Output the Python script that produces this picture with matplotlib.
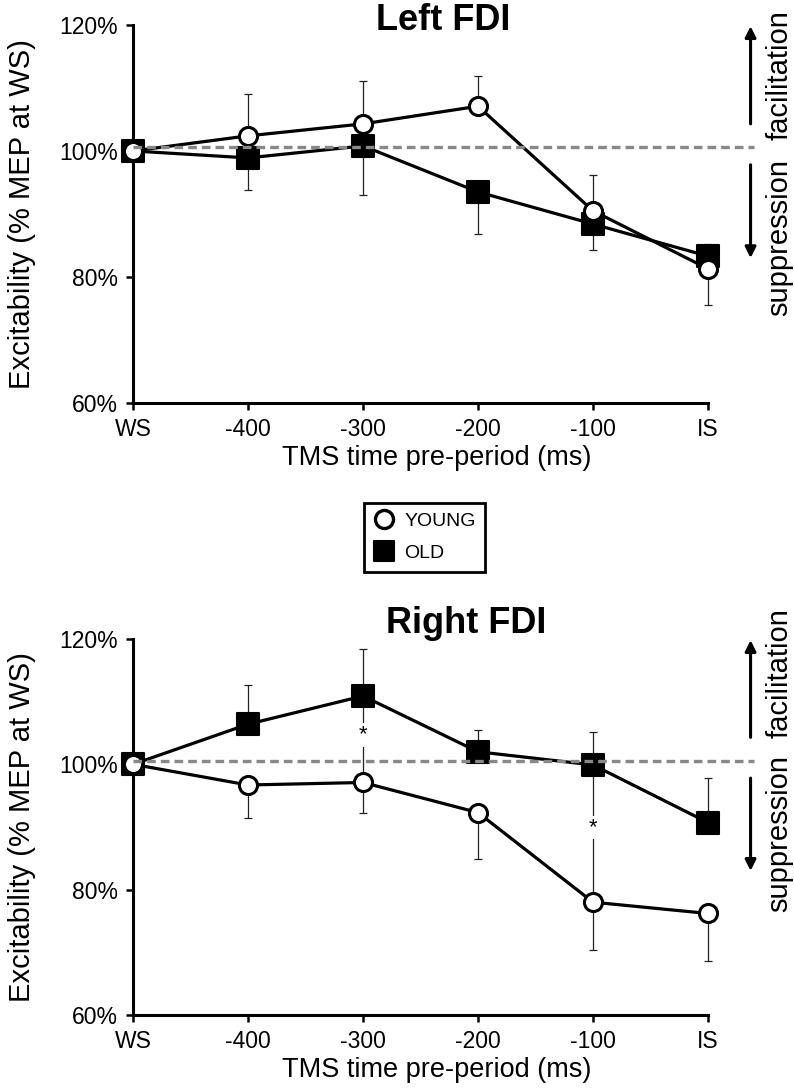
import numpy as np
import matplotlib
matplotlib.use("Agg")
import matplotlib.pyplot as plt
from matplotlib.lines import Line2D
from matplotlib.markers import MarkerStyle

plt.rcParams['font.family'] = ['Liberation Sans', 'DejaVu Sans']

X_LABELS = ["WS", "-400", "-300", "-200", "-100", "IS"]

# Left FDI (mean % of MEP at WS); error bars are one-sided in the figure
LEFT_YOUNG = [100, 102.4, 104.3, 107.1, 90.5, 81.3]
LEFT_YOUNG_LO = [0, 0, 0, 0, 0, 5.7]
LEFT_YOUNG_HI = [0, 6.7, 6.8, 4.8, 5.7, 0]
LEFT_OLD = [100, 98.9, 100.8, 93.5, 88.4, 83.3]
LEFT_OLD_LO = [0, 5.1, 7.8, 6.7, 4.1, 0]
LEFT_OLD_HI = [0, 0, 0, 0, 0, 1.9]

# Right FDI
RIGHT_YOUNG = [100, 96.7, 97.1, 92.3, 78.0, 76.2]
RIGHT_YOUNG_LO = [0, 5.2, 4.8, 7.4, 7.6, 7.6]
RIGHT_YOUNG_HI = [0, 0, 0, 0, 0, 0]
RIGHT_OLD = [100, 106.4, 110.9, 102.0, 99.9, 90.7]
RIGHT_OLD_LO = [0, 0, 0, 0, 0, 0]
RIGHT_OLD_HI = [0, 6.3, 7.5, 3.4, 5.2, 7.1]

# significant young/old differences (Right FDI only)
RIGHT_SIG_X = [2, 4]
RIGHT_SIG_STAR_Y = [104.7, 89.9]

BASELINE = 100.6
SQUARE = MarkerStyle('s', joinstyle='round')


def draw_panel(ax, title, title_xy, young, y_lo, y_hi, old, o_lo, o_hi,
               sig_x=(), sig_star=(), text_split=(101.7, 98.7)):
    x = np.arange(len(X_LABELS))
    for vals, lo, hi in [(old, o_lo, o_hi), (young, y_lo, y_hi)]:
        eb = ax.errorbar(x, vals, yerr=[lo, hi], fmt='none', ecolor='#222222',
                         elinewidth=0.9, capsize=2.8, capthick=0.9, zorder=1)
        for art in eb.lines[1] + eb.lines[2]:
            art.set_clip_on(False)
    for sx, st in zip(sig_x, sig_star):
        ax.vlines(sx, young[sx], old[sx], color='#222222', lw=0.9, zorder=1)
        ax.text(sx, st, "*", ha='center', va='center', fontsize=16,
                bbox=dict(facecolor='white', edgecolor='none', pad=1.0),
                zorder=2)
    ax.plot(x, old, color='black', lw=2.3, marker=SQUARE, ms=15.5,
            mfc='black', mec='black', mew=1.5, clip_on=False, zorder=3)
    ax.plot(x, young, color='black', lw=2.3, marker='o', ms=13,
            mfc='white', mec='black', mew=2.2, clip_on=False, zorder=4)
    ax.hlines(BASELINE, 0, 5.4, colors='#888888', lw=2.4,
              linestyles=(0, (2.6, 1.5)), clip_on=False, zorder=5)

    ax.set_xlim(0, 5)
    ax.set_ylim(60, 120)
    ax.set_xticks(x)
    ax.set_xticklabels(X_LABELS)
    ax.set_yticks([60, 80, 100, 120])
    ax.set_yticklabels(["60%", "80%", "100%", "120%"])
    for s in ["top", "right"]:
        ax.spines[s].set_visible(False)
    for s in ["left", "bottom"]:
        ax.spines[s].set_linewidth(2.2)
    ax.tick_params(length=5, width=1.8, labelsize=16.5, pad=6)
    ax.set_xlabel("TMS time pre-period (ms)", fontsize=19.5)
    ax.xaxis.set_label_coords(0.529, -0.112)
    ax.text(-0.193, 0.5, "Excitability (% MEP at WS)", transform=ax.transAxes,
            rotation=90, ha='center', va='center', fontsize=21)
    ax.text(title_xy[0], title_xy[1], title, ha='center', va='baseline',
            fontsize=26, fontweight='bold', clip_on=False)

    # facilitation / suppression arrows on the right
    ax.annotate("", xy=(5.37, 119.8), xytext=(5.37, 104.3),
                arrowprops=dict(arrowstyle='-|>', lw=2.2, color='black',
                                mutation_scale=16, shrinkA=0, shrinkB=0),
                annotation_clip=False)
    ax.annotate("", xy=(5.37, 83.0), xytext=(5.37, 97.8),
                arrowprops=dict(arrowstyle='-|>', lw=2.2, color='black',
                                mutation_scale=16, shrinkA=0, shrinkB=0),
                annotation_clip=False)
    ax.text(5.62, text_split[0], "facilitation", rotation=90, ha='center',
            va='bottom', fontsize=21, clip_on=False)
    ax.text(5.62, text_split[1], "suppression", rotation=90, ha='center',
            va='top', fontsize=21, clip_on=False)


fig = plt.figure(figsize=(7.94, 10.9), dpi=100)
ax_top = fig.add_axes([0.1675, 0.6303, 0.7242, 0.3468])
ax_bot = fig.add_axes([0.1675, 0.0688, 0.7242, 0.3450])

draw_panel(ax_top, "Left FDI", (2.70, 119.2), LEFT_YOUNG, LEFT_YOUNG_LO,
           LEFT_YOUNG_HI, LEFT_OLD, LEFT_OLD_LO, LEFT_OLD_HI,
           text_split=(101.7, 98.7))
draw_panel(ax_bot, "Right FDI", (2.90, 121.0), RIGHT_YOUNG, RIGHT_YOUNG_LO,
           RIGHT_YOUNG_HI, RIGHT_OLD, RIGHT_OLD_LO, RIGHT_OLD_HI,
           sig_x=RIGHT_SIG_X, sig_star=RIGHT_SIG_STAR_Y,
           text_split=(104.2, 101.5))

handles = [Line2D([], [], ls='none', marker='o', ms=13, mfc='white',
                  mec='black', mew=2.4),
           Line2D([], [], ls='none', marker=SQUARE, ms=14.5, mfc='black',
                  mec='black', mew=1.5)]
leg = fig.legend(handles, ["YOUNG", "OLD"], loc='center',
                 bbox_to_anchor=(0.535, 0.507), fancybox=False,
                 edgecolor='black', framealpha=1, fontsize=14,
                 handlelength=1.0, labelspacing=0.75, borderpad=0.5,
                 handletextpad=0.55, borderaxespad=0)
leg.get_frame().set_linewidth(2.0)

fig.savefig("out.png", dpi=100)
